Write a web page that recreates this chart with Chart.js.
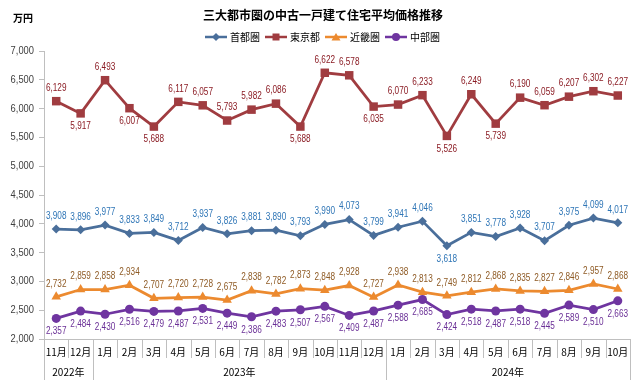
<!DOCTYPE html>
<html lang="ja">
<head>
<meta charset="utf-8">
<title>三大都市圏の中古一戸建て住宅平均価格推移</title>
<script src="https://cdn.jsdelivr.net/npm/chart.js@4.4.1/dist/chart.umd.min.js"></script>
<style>
  html, body { margin: 0; padding: 0; background: #fff; }
  #wrap { width: 640px; height: 384px; }
</style>
</head>
<body>
<div id="wrap"><canvas id="myChart" width="640" height="384"></canvas></div>
<script>
// data
const months = ['11月', '12月', '1月', '2月', '3月', '4月', '5月', '6月', '7月', '8月', '9月', '10月',
  '11月', '12月', '1月', '2月', '3月', '4月', '5月', '6月', '7月', '8月', '9月', '10月'];
const yearLabels = ['2022年', '2023年', '2024年'];
const yearCounts = [2, 12, 10];

const shutoken = [3908, 3896, 3977, 3833, 3849, 3712, 3937, 3826, 3881, 3890, 3793, 3990,
  4073, 3799, 3941, 4046, 3618, 3851, 3778, 3928, 3707, 3975, 4099, 4017];
const tokyo = [6129, 5917, 6493, 6007, 5688, 6117, 6057, 5793, 5982, 6086, 5688, 6622,
  6578, 6035, 6070, 6233, 5526, 6249, 5739, 6190, 6059, 6207, 6302, 6227];
const kinki = [2732, 2859, 2858, 2934, 2707, 2720, 2728, 2675, 2838, 2782, 2873, 2848,
  2928, 2727, 2938, 2813, 2749, 2812, 2868, 2835, 2827, 2846, 2957, 2868];
const chubu = [2357, 2484, 2430, 2516, 2479, 2487, 2531, 2449, 2386, 2483, 2507, 2567,
  2409, 2487, 2588, 2685, 2424, 2518, 2487, 2518, 2445, 2589, 2510, 2663];

const yMin = 2000, yMax = 7000, yStep = 500;

const jpFont = '"Noto Sans CJK JP", "Noto Sans", sans-serif';
const numFont = '"Liberation Sans", Arial, sans-serif';
const axisGray = '#bfbfbf';

// narrow text like the Excel original (horizontal squeeze)
const narrowText = (ctx, text, x, y, sx) => {
    ctx.save();
    ctx.translate(x, y);
    ctx.scale(sx, 1);
    ctx.fillText(text, 0, 0);
    ctx.restore();
};

// small icon for legend: line with marker in the middle
const legendIcon = (color, style) => {
    const c = document.createElement('canvas');
    c.width = 22; c.height = 10;
    const g = c.getContext('2d');
    g.strokeStyle = color; g.lineWidth = 2.5;
    g.beginPath(); g.moveTo(0, 5); g.lineTo(22, 5); g.stroke();
    g.fillStyle = color;
    g.beginPath();
    if (style === 'rect') g.rect(7.5, 1.5, 7, 7);
    else if (style === 'rectRot') { g.moveTo(11, 1); g.lineTo(15, 5); g.lineTo(11, 9); g.lineTo(7, 5); g.closePath(); }
    else if (style === 'triangle') { g.moveTo(11, 1); g.lineTo(15.5, 8.5); g.lineTo(6.5, 8.5); g.closePath(); }
    else g.arc(11, 5, 4, 0, Math.PI * 2);
    g.fill();
    return c;
};

// title, legend and unit label
const headerPlugin = {
    id: 'header',
    afterDraw(chart) {
        const ctx = chart.ctx;
        ctx.save();
        ctx.fillStyle = '#000';
        ctx.textBaseline = 'middle';
        ctx.textAlign = 'center';
        ctx.font = 'bold 12px ' + jpFont;
        ctx.fillText('三大都市圏の中古一戸建て住宅平均価格推移', 323, 15);

        ctx.textAlign = 'left';
        ctx.font = 'bold 10px ' + jpFont;
        ctx.fillText('万円', 13, 18);

        ctx.font = '10px ' + jpFont;
        let x = 205;
        chart.data.datasets.forEach(ds => {
            ctx.drawImage(legendIcon(ds.borderColor, ds.pointStyle), x, 32);
            x += 25;
            ctx.fillStyle = '#000';
            ctx.fillText(ds.label, x, 37.5);
            x += ctx.measureText(ds.label).width + 5;
        });
        ctx.restore();
    }
};

// value labels above / below each point
const valueLabels = {
    id: 'valueLabels',
    afterDatasetsDraw(chart) {
        const ctx = chart.ctx;
        ctx.save();
        ctx.font = '10px ' + numFont;
        ctx.textAlign = 'center';
        ctx.textBaseline = 'middle';
        chart.data.datasets.forEach((ds, i) => {
            const meta = chart.getDatasetMeta(i);
            ctx.fillStyle = ds.labelColor;
            meta.data.forEach((pt, j) => {
                const below = ds.labelBelow === 'all' || (ds.labelBelow || []).includes(j);
                narrowText(ctx, ds.data[j].toLocaleString('en-US'), pt.x, below ? pt.y + 13 : pt.y - 13, 0.82);
            });
        });
        ctx.restore();
    }
};

// y tick labels, drawn narrow from the scale's own ticks
const yLabels = {
    id: 'yLabels',
    afterDraw(chart) {
        const ctx = chart.ctx;
        const ys = chart.scales.y;
        ctx.save();
        ctx.font = '11px ' + numFont;
        ctx.fillStyle = '#404040';
        ctx.textAlign = 'right';
        ctx.textBaseline = 'middle';
        ys.ticks.forEach(t => {
            narrowText(ctx, t.value.toLocaleString('en-US'), ys.right - 10, ys.getPixelForValue(t.value), 0.85);
        });
        ctx.restore();
    }
};

// two-level category axis (month / year)
const groupAxis = {
    id: 'groupAxis',
    afterDraw(chart) {
        const ctx = chart.ctx;
        const xs = chart.scales.x;
        const top = chart.chartArea.bottom;
        const half = (xs.getPixelForValue(1) - xs.getPixelForValue(0)) / 2;
        ctx.save();
        ctx.strokeStyle = axisGray;
        ctx.lineWidth = 1;
        ctx.fillStyle = '#000';
        ctx.font = '10px ' + jpFont;
        ctx.textAlign = 'center';
        ctx.textBaseline = 'middle';

        months.forEach((m, i) => {
            const cx = xs.getPixelForValue(i);
            ctx.fillText(m, cx, top + 13);
            ctx.beginPath();
            ctx.moveTo(Math.round(cx + half) + 0.5, top);
            ctx.lineTo(Math.round(cx + half) + 0.5, top + 19);
            ctx.stroke();
        });

        let start = 0;
        const leftEdge = xs.getPixelForValue(0) - half;
        ctx.beginPath();
        ctx.moveTo(Math.round(leftEdge) + 0.5, top);
        ctx.lineTo(Math.round(leftEdge) + 0.5, top + 41);
        ctx.stroke();
        yearLabels.forEach((y, k) => {
            const end = start + yearCounts[k] - 1;
            const x0 = xs.getPixelForValue(start) - half;
            const x1 = xs.getPixelForValue(end) + half;
            ctx.fillText(y, (x0 + x1) / 2, top + 33);
            ctx.beginPath();
            ctx.moveTo(Math.round(x1) + 0.5, top);
            ctx.lineTo(Math.round(x1) + 0.5, top + 41);
            ctx.stroke();
            start = end + 1;
        });
        ctx.restore();
    }
};

const ctx = document.getElementById('myChart').getContext('2d');
new Chart(ctx, {
    type: 'line',
    data: {
        labels: months,
        datasets: [
            {
                label: '首都圏', data: shutoken,
                borderColor: '#4a6f9b', backgroundColor: '#4a6f9b', labelColor: '#2e75b6',
                pointStyle: 'rectRot', pointRadius: 4.5, labelBelow: [16]
            },
            {
                label: '東京都', data: tokyo,
                borderColor: '#a03c40', backgroundColor: '#a03c40', labelColor: '#8b1c24',
                pointStyle: 'rect', pointRadius: 6, labelBelow: [1, 3, 4, 10, 13, 16, 18]
            },
            {
                label: '近畿圏', data: kinki,
                borderColor: '#ec8a2f', backgroundColor: '#ec8a2f', labelColor: '#8e5a24',
                pointStyle: 'triangle', pointRadius: 5.5, labelBelow: []
            },
            {
                label: '中部圏', data: chubu,
                borderColor: '#6f35a0', backgroundColor: '#6f35a0', labelColor: '#6a2f96',
                pointStyle: 'circle', pointRadius: 4.5, labelBelow: 'all'
            }
        ].map(d => Object.assign({ borderWidth: 2.75, tension: 0, pointBorderWidth: 0 }, d))
    },
    options: {
        responsive: false,
        animation: false,
        layout: { padding: { top: 51, right: 10, bottom: 0, left: 0 } },
        plugins: {
            legend: { display: false },
            title: { display: false },
            tooltip: { enabled: false }
        },
        scales: {
            x: {
                offset: true,
                grid: { display: false },
                border: { display: true, color: axisGray },
                ticks: { display: false },
                afterFit: s => { s.height = 45; }
            },
            y: {
                min: yMin, max: yMax,
                ticks: { stepSize: yStep, display: false },
                grid: { drawOnChartArea: false, tickLength: 5, color: axisGray },
                border: { display: true, color: axisGray },
                afterFit: s => { s.width = 44; }
            }
        }
    },
    plugins: [headerPlugin, valueLabels, yLabels, groupAxis]
});
</script>
</body>
</html>
